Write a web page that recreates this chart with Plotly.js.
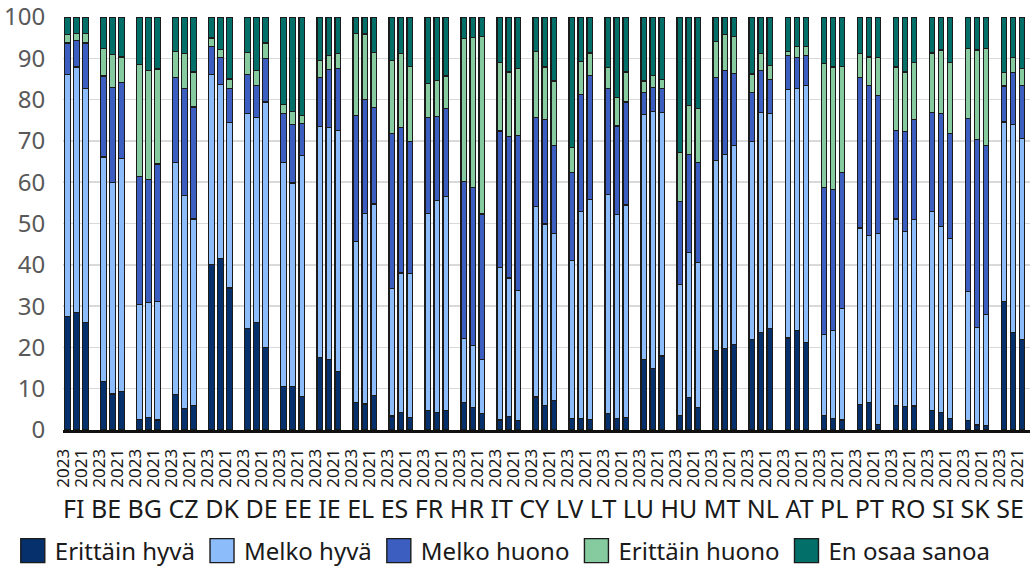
<!DOCTYPE html>
<html>
<head>
<meta charset="utf-8">
<script src="https://cdn.plot.ly/plotly-3.0.1.min.js"></script>
<style>html,body{margin:0;padding:0;background:#fff;}#chart{width:1036px;height:580px;}</style>
</head>
<body>
<div id="chart"></div>
<script>
const countries = ['FI','BE','BG','CZ','DK','DE','EE','IE','EL','ES','FR','HR','IT','CY','LV','LT','LU','HU','MT','NL','AT','PL','PT','RO','SI','SK','SE'];
const years = ['2023','2022','2021'];
const yearTickLabels = ['2023','','2021'];
const seriesNames = ['Erittäin hyvä','Melko hyvä','Melko huono','Erittäin huono','En osaa sanoa'];

// values per country in order 2023, 2022, 2021
const erittainHyva = [27.4,28.5,26.0, 11.8,8.7,9.3, 2.5,3.0,2.4, 8.6,5.2,6.0, 40.1,41.6,34.4, 24.5,26.1,19.9, 10.5,10.6,8.2, 17.5,17.1,14.1, 6.6,6.3,8.4, 3.4,4.3,3.1, 4.7,4.2,4.8, 6.6,5.5,4.0, 2.4,3.2,2.3, 8.0,6.0,7.1, 2.7,2.7,2.6, 4.0,2.7,3.1, 17.1,14.9,17.9, 3.5,7.8,5.5, 19.3,19.7,20.7, 21.9,23.6,24.5, 22.3,24.1,21.2, 3.5,2.8,2.4, 6.2,6.6,1.4, 6.0,5.6,5.8, 4.8,4.2,2.8, 2.3,1.2,1.0, 31.2,23.7,21.9];
const melkoHyva = [58.7,59.4,56.7, 54.3,51.3,56.4, 27.8,27.8,28.7, 56.2,51.5,45.1, 46.0,42.1,40.0, 52.1,49.5,59.5, 54.3,49.2,58.2, 55.9,56.1,58.5, 39.1,46.2,46.3, 30.8,33.7,34.7, 47.8,51.3,51.8, 15.5,15.0,13.1, 37.0,33.6,31.5, 46.1,43.9,40.5, 38.3,50.2,53.3, 53.1,49.4,51.4, 59.2,62.3,58.9, 31.7,35.2,35.1, 46.0,47.1,48.1, 47.9,53.2,52.2, 60.2,58.5,62.2, 19.7,21.3,27.1, 42.7,40.5,46.1, 45.1,42.4,45.1, 48.1,45.0,43.5, 31.2,23.6,26.9, 43.4,50.3,48.7];
const melkoHuono = [7.6,6.5,11.0, 19.6,22.9,18.4, 31.1,29.9,33.3, 20.5,25.9,27.1, 6.8,6.4,8.2, 9.5,7.8,10.5, 11.9,14.1,7.9, 11.9,14.1,14.9, 30.5,27.5,23.3, 37.6,35.2,32.0, 23.1,20.5,21.2, 38.0,38.2,35.2, 33.0,34.2,37.6, 21.5,25.2,21.3, 21.3,28.4,29.9, 25.5,21.5,24.9, 5.5,5.8,5.8, 20.1,23.8,24.2, 20.1,20.2,17.5, 12.0,10.2,8.2, 8.2,7.5,7.3, 35.5,34.2,32.8, 36.4,36.4,33.5, 21.5,24.2,24.2, 23.9,27.5,25.5, 42.0,45.6,40.9, 8.7,12.6,12.9];
const erittainHuono = [2.0,1.6,2.4, 6.7,8.0,6.2, 27.1,26.3,23.0, 6.4,8.5,8.5, 2.0,2.0,2.4, 5.4,3.6,3.8, 2.1,3.2,1.9, 4.2,3.4,3.6, 19.8,15.9,13.5, 17.7,18.0,18.3, 8.3,8.6,7.9, 34.6,36.4,43.0, 16.5,15.7,16.1, 16.1,12.8,15.6, 6.1,8.0,5.5, 5.1,6.9,7.3, 2.7,2.8,2.3, 11.9,11.8,13.0, 8.7,8.7,9.0, 4.4,4.2,3.4, 0.9,2.7,2.1, 30.0,29.6,25.8, 5.8,6.8,9.1, 15.3,14.5,13.8, 14.5,15.3,17.1, 16.8,21.6,23.5, 3.3,3.5,4.0];
const enOsaaSanoa = [4.3,4.0,3.9, 7.6,9.1,9.7, 11.5,13.0,12.6, 8.3,8.9,13.3, 5.1,7.9,15.0, 8.5,13.0,6.3, 21.2,22.9,23.8, 10.5,9.3,8.9, 4.0,4.1,8.5, 10.5,8.8,11.9, 16.1,15.4,14.3, 5.3,4.9,4.7, 11.1,13.3,12.5, 8.3,12.1,15.5, 31.6,10.7,8.7, 12.3,19.5,13.3, 15.5,14.2,15.1, 32.8,21.4,22.2, 5.9,4.3,4.7, 13.8,8.8,11.7, 8.4,7.2,7.2, 11.3,12.1,11.9, 8.9,9.7,9.9, 12.1,13.3,11.1, 8.7,8.0,11.1, 7.7,8.0,7.7, 13.4,9.9,12.5];

const colors = ['#06306b','#8dbcfb','#3c5ec0','#86cba0','#036f69'];
const seriesValues = [erittainHyva, melkoHyva, melkoHuono, erittainHuono, enOsaaSanoa];

// x position for each bar: 3 bars per country plus one empty slot
const slot = years.length + 1;
const xs = [], tickVals = [], tickText = [];
countries.forEach((c, g) => {
  years.forEach((y, j) => {
    xs.push(g * slot + j);
    if (yearTickLabels[j]) { tickVals.push(g * slot + j - 0.45); tickText.push(yearTickLabels[j]); }
  });
});

const FONT = '"Noto Sans", "Open Sans", sans-serif';
const traces = seriesNames.map((name, i) => ({
  type: 'bar', name: name, x: xs, y: seriesValues[i], width: 0.6,
  marker: {color: colors[i], line: {color: '#1b1b1b', width: 1.2}},
  hoverinfo: 'name+y'
}));

const layout = {
  width: 1036, height: 580,
  margin: {l: 63, r: 6, t: 17, b: 148},
  barmode: 'stack',
  paper_bgcolor: '#fff', plot_bgcolor: '#fff',
  font: {family: FONT},
  xaxis: {
    range: [-0.5, 106.9], tickmode: 'array', tickvals: tickVals, ticktext: tickText,
    tickangle: -90, tickfont: {family: FONT, size: 17, color: '#1a1a1a'},
    ticks: 'outside', ticklen: 9, tickcolor: 'rgba(0,0,0,0)',
    showgrid: false, zeroline: false, showline: true, linecolor: '#111', linewidth: 3
  },
  yaxis: {
    range: [0, 100], dtick: 10, tickfont: {family: FONT, size: 24, color: '#595959'},
    ticks: 'outside', ticklen: 12, tickcolor: 'rgba(0,0,0,0)', ticklabeloverflow: 'allow',
    showgrid: true, gridcolor: '#d9d9d9', gridwidth: 1.5, zeroline: false, showline: false
  },
  showlegend: true,
  legend: {
    orientation: 'h', x: -0.054, xanchor: 'left', y: -0.293, yanchor: 'middle',
    font: {family: FONT, size: 24, color: '#1a1a1a'}, traceorder: 'normal',
    itemwidth: 34, itemclick: false, itemdoubleclick: false
  },
  annotations: [{
    x: 0.497, y: -0.19, xref: 'paper', yref: 'paper',
    text: countries.join(' '), showarrow: false, xanchor: 'center', yanchor: 'middle',
    font: {family: FONT, size: 25, color: '#1a1a1a'}
  }]
};

Plotly.newPlot('chart', traces, layout, {displayModeBar: false, staticPlot: true}).then(gd => {
  // enlarge legend swatches to match the reference's big squares (keep Plotly's own offset)
  gd.querySelectorAll('.legend .legendpoints path').forEach(p => {
    const t = p.getAttribute('transform') || '';
    p.setAttribute('transform', t + ' scale(2)');
    p.style.strokeWidth = '0.7px';
  });
});
</script>
</body>
</html>
